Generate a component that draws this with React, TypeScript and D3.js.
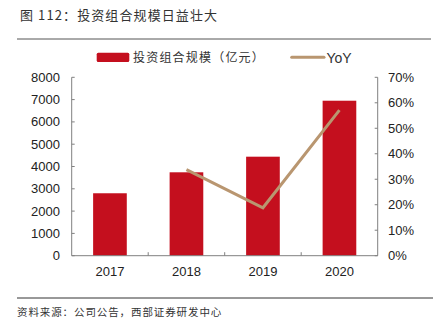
import React from "react";
import * as d3 from "d3";

const categories = ["2017", "2018", "2019", "2020"];
const scaleValues = [2800, 3740, 4440, 6950];
const yoyYears = ["2018", "2019", "2020"];
const yoyValues = [0.338, 0.188, 0.571];
const leftTicks = [0, 1000, 2000, 3000, 4000, 5000, 6000, 7000, 8000];
const rightTicks = [0, 0.1, 0.2, 0.3, 0.4, 0.5, 0.6, 0.7];

const W = 438;
const H = 332;
const plot = { left: 71.7, right: 377.7, top: 77.3, bottom: 255.7 };
const barColor = "#C40F1E";
const lineColor = "#B99670";
const axisColor = "#808080";
const latin = "'Liberation Sans', Arial, sans-serif";
const cjk = "'Noto Sans CJK SC', sans-serif";

export default function App() {
  const x = d3.scaleBand<string>().domain(categories).range([plot.left, plot.right]).paddingInner(0).paddingOuter(0);
  const yL = d3.scaleLinear().domain([0, 8000]).range([plot.bottom, plot.top]);
  const yR = d3.scaleLinear().domain([0, 0.7]).range([plot.bottom, plot.top]);
  const bw = x.bandwidth() * 0.44;
  const line = d3
    .line<number>()
    .x((_, i) => (x(yoyYears[i]) as number) + x.bandwidth() / 2)
    .y((d) => yR(d));

  const boundaries = categories.slice(1).map((c) => x(c) as number);

  return (
    <svg width={W} height={H} style={{ position: "absolute", left: 0, top: 0, background: "#fff" }}>
      {/* Title */}
      <text x={20} y={20} fontFamily={cjk} fontSize={13} fill="#333" letterSpacing={1.1}>
        图 112：投资组合规模日益壮大
      </text>
      <line x1={17} x2={431} y1={39} y2={39} stroke="#555" strokeWidth={1} />

      {/* Legend */}
      <rect x={96.7} y={52.7} width={32.6} height={9.3} rx={1.5} fill={barColor} />
      <text x={133} y={62} fontFamily={cjk} fontSize={12} fill="#333" letterSpacing={1.2}>
        投资组合规模（亿元）
      </text>
      <line x1={291.7} x2={324} y1={57.3} y2={57.3} stroke={lineColor} strokeWidth={3} strokeLinecap="round" />
      <text x={326.5} y={62.5} fontFamily={latin} fontSize={14} fill="#333">
        YoY
      </text>

      {/* Bars */}
      {categories.map((c, i) => (
        <rect
          key={c}
          x={(x(c) as number) + x.bandwidth() / 2 - bw / 2}
          y={yL(scaleValues[i])}
          width={bw}
          height={plot.bottom - yL(scaleValues[i])}
          fill={barColor}
        />
      ))}

      {/* Axes */}
      <line x1={plot.left} x2={plot.left} y1={plot.top} y2={plot.bottom} stroke={axisColor} strokeWidth={1} />
      <line x1={plot.right} x2={plot.right} y1={plot.top} y2={plot.bottom} stroke={axisColor} strokeWidth={1} />
      <line x1={plot.left} x2={plot.right} y1={plot.bottom} y2={plot.bottom} stroke={axisColor} strokeWidth={1} />
      {leftTicks.map((t) => (
        <g key={"l" + t}>
          <line x1={plot.left} x2={plot.left + 3} y1={yL(t)} y2={yL(t)} stroke={axisColor} />
          <text x={60} y={yL(t) + 4.5} textAnchor="end" fontFamily={latin} fontSize={13} fill="#222">
            {t}
          </text>
        </g>
      ))}
      {rightTicks.map((t) => (
        <g key={"r" + t}>
          <line x1={plot.right - 3} x2={plot.right} y1={yR(t)} y2={yR(t)} stroke={axisColor} />
          <text x={388} y={yR(t) + 4.5} textAnchor="start" fontFamily={latin} fontSize={13} fill="#222">
            {Math.round(t * 100) + "%"}
          </text>
        </g>
      ))}
      {boundaries.map((b) => (
        <line key={"b" + b} x1={b} x2={b} y1={plot.bottom} y2={plot.bottom - 3.5} stroke={axisColor} />
      ))}
      {categories.map((c) => (
        <text
          key={"x" + c}
          x={(x(c) as number) + x.bandwidth() / 2}
          y={276}
          textAnchor="middle"
          fontFamily={latin}
          fontSize={13}
          fill="#222"
        >
          {c}
        </text>
      ))}

      {/* YoY line */}
      <path d={line(yoyValues) || ""} fill="none" stroke={lineColor} strokeWidth={3} />

      {/* Source */}
      <line x1={17} x2={433} y1={298} y2={298} stroke="#333" strokeWidth={1} />
      <text x={17} y={315.5} fontFamily={cjk} fontSize={10.5} fill="#333" letterSpacing={0.9}>
        资料来源：公司公告，西部证券研发中心
      </text>
    </svg>
  );
}
